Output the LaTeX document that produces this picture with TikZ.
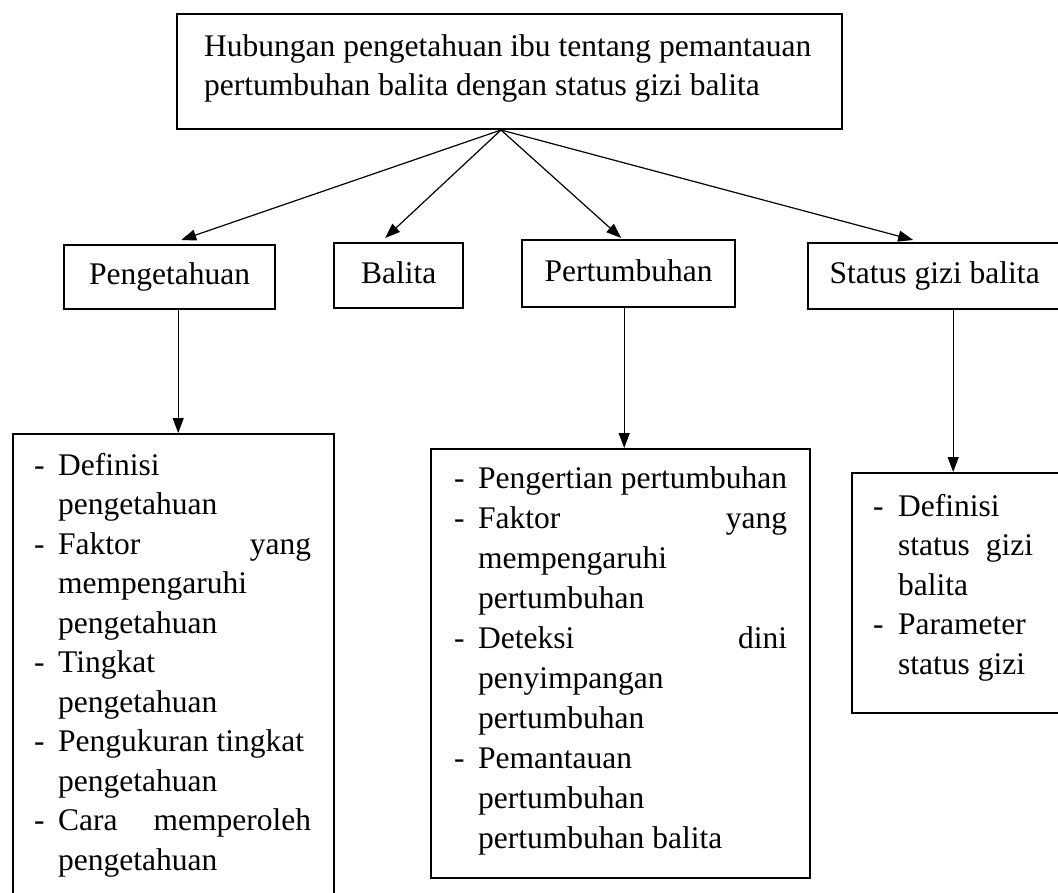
\documentclass[tikz,border=0pt]{standalone}
\usepackage{fontspec}
\setmainfont{Liberation Serif}
\usetikzlibrary{arrows.meta}
\newcommand{\dsh}[1][24pt]{\makebox[#1][l]{-}}
\newcommand{\fs}[1]{\fontsize{31.5pt}{#1}\selectfont}
\tikzset{
  box/.style={draw, line width=2.4pt, inner sep=0pt, anchor=north west},
  lbl/.style={box, font=\fs{39.5pt}, text height=22pt, text depth=7pt},
  arr/.style={line width=1.2pt, -{Triangle[length=15pt,width=11pt]}}
}
\begin{document}
\begin{tikzpicture}[x=1pt,y=-1pt]
\fill[white] (0,0) rectangle (1058,892);
\useasboundingbox (0,0) rectangle (1058,892);

% top box
\node[box] (top) at (176,13) {\parbox[c][115pt][t]{665pt}{\fs{39.5pt}\leftskip=27pt\relax\vspace*{14.35pt}\strut Hubungan pengetahuan ibu tentang pemantauan\\
pertumbuhan balita dengan status gizi balita}};

% middle row
\node[lbl, minimum width=211pt, minimum height=64pt] (peng) at (63,244) {Pengetahuan};
\node[lbl, minimum width=129pt, minimum height=65pt] (bal) at (333,242) {Balita};
\node[lbl, minimum width=213pt, minimum height=67pt] (pert) at (521,239) {Pertumbuhan};
\node[lbl, minimum width=253pt, minimum height=66pt] (stat) at (807,242) {Status gizi balita};

% bottom boxes
\node[box] (lbox) at (12,433) {\parbox[c][470pt][t]{321pt}{\fs{39.5pt}\leftskip=21pt\relax\vspace*{13.35pt}%
\strut\dsh Definisi\\
\hspace*{24pt}pengetahuan\\
\dsh\hbox to 253pt{Faktor\hfill yang}\\
\hspace*{24pt}mempengaruhi\\
\hspace*{24pt}pengetahuan\\
\dsh Tingkat\\
\hspace*{24pt}pengetahuan\\
\dsh Pengukuran tingkat\\
\hspace*{24pt}pengetahuan\\
\dsh\hbox to 253pt{Cara\hfill memperoleh}\\
\hspace*{24pt}pengetahuan}};

\node[box] (mbox) at (430,448) {\parbox[c][429pt][t]{379pt}{\fs{40pt}\leftskip=23pt\relax\vspace*{11.35pt}%
\strut\dsh Pengertian pertumbuhan\\
\dsh\hbox to 309pt{Faktor\hfill yang}\\
\hspace*{24pt}mempengaruhi\\
\hspace*{24pt}pertumbuhan\\
\dsh\hbox to 309pt{Deteksi\hfill dini}\\
\hspace*{24pt}penyimpangan\\
\hspace*{24pt}pertumbuhan\\
\dsh Pemantauan\\
\hspace*{24pt}pertumbuhan\\
\hspace*{24pt}pertumbuhan balita}};

\node[box] (rbox) at (851,472) {\parbox[c][240pt][t]{210pt}{\fs{39.5pt}\leftskip=21pt\relax\vspace*{15.35pt}%
\strut\dsh[25pt]Definisi\\
\hspace*{25pt}\hbox to 135pt{status\hfill gizi}\\
\hspace*{25pt}balita\\
\dsh[25pt]Parameter\\
\hspace*{25pt}status gizi}};

% connectors
\coordinate (apex) at (501,130);
\draw[arr] (apex) -- ([xshift=11.5pt,yshift=4pt]peng.north);
\draw[arr] (apex) -- ([xshift=-13.5pt,yshift=4pt]bal.north);
\draw[arr] (apex) -- ([xshift=-7.5pt,yshift=1pt]pert.north);
\draw[arr] (apex) -- ([xshift=-21.5pt,yshift=2pt]stat.north);

\draw[arr] ([xshift=8.5pt]peng.south) -- ([xshift=8.5pt]peng.south |- lbox.north);
\draw[arr] ([xshift=-4.5pt]pert.south) -- ([xshift=-4.5pt]pert.south |- mbox.north);
\draw[arr] ([xshift=18.5pt]stat.south) -- ([xshift=18.5pt]stat.south |- rbox.north);
\end{tikzpicture}
\end{document}
